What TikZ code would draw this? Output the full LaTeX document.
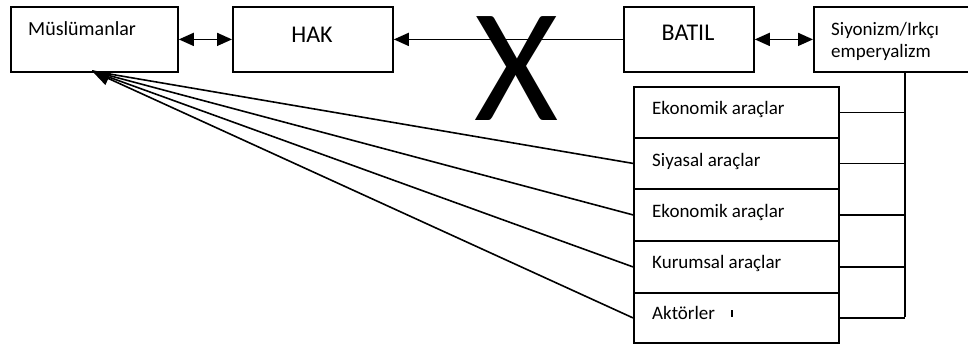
\documentclass[tikz,border=0pt]{standalone}
\usepackage{fontspec}
\setmainfont{Carlito}
\usetikzlibrary{arrows.meta}
\begin{document}
\begin{tikzpicture}[x=1pt,y=-1pt,
  box/.style={draw,line width=1.8pt,fill=white,inner sep=0pt,anchor=north west},
  lbl/.style={anchor=base west,inner sep=0pt,font=\fontsize{19}{22}\selectfont},
  big/.style={anchor=base,inner sep=0pt,font=\fontsize{24}{28}\selectfont},
  ln/.style={line width=1.6pt},
  tipa/.style={-{Triangle[length=15pt,width=13pt]}},
  tipb/.style={{Triangle[length=15pt,width=13pt]}-{Triangle[length=15pt,width=13pt]}},
  tipc/.style={-{Triangle[length=18pt,width=14pt]}}]
\useasboundingbox (0,0) rectangle (968,343);
% top row boxes
\node[box,minimum width=167pt,minimum height=65pt] (mus) at (10,6) {};
\node[box,minimum width=160pt,minimum height=65pt] (hak) at (232,6) {};
\node[box,minimum width=130pt,minimum height=65pt] (bat) at (623,6) {};
\node[box,minimum width=170pt,minimum height=65pt] (siy) at (813,6) {};
\node[lbl,font=\fontsize{20}{24}\selectfont] (musT) at (28,35) {Müslümanlar};
\node[big] (hakT) at (312,42) {HAK};
\node[big] (batT) at (688,40) {BATIL};
\node[lbl] (siyT1) at (831,35) {Siyonizm/Irkçı};
\node[lbl] (siyT2) at (831,57) {emperyalizm};
% rows
\node[box,minimum width=205pt,minimum height=51pt] (r1) at (633,86) {};
\node[box,minimum width=205pt,minimum height=51pt] (r2) at (633,137) {};
\node[box,minimum width=205pt,minimum height=52pt] (r3) at (633,188) {};
\node[box,minimum width=205pt,minimum height=52pt] (r4) at (633,240) {};
\node[box,minimum width=205pt,minimum height=50pt] (r5) at (633,292) {};
\node[lbl] (t1) at (652,114) {Ekonomik araçlar};
\node[lbl] (t2) at (652,166) {Siyasal araçlar};
\node[lbl] (t3) at (652,217) {Ekonomik araçlar};
\node[lbl] (t4) at (652,268) {Kurumsal araçlar};
\node[lbl] (t5) at (652,319) {Aktörler};
\draw[line width=1.8pt] (732,310) -- (732,317);
% connectors top
\draw[ln,tipb] (mus.east) -- (hak.west);
\draw[ln,tipa] (bat.west) -- (hak.east);
\draw[ln,tipb] (bat.east) -- (siy.west);
% right bracket
\coordinate (vtop) at (905,71);
\coordinate (vbot) at (905,317);
\draw[ln] (vtop) -- (vbot);
\foreach \r in {r1,r2,r3,r4,r5} \draw[ln] (\r.east) -- (\r.east -| vtop);
% fan to Muslumanlar
\coordinate (tip) at (92,71);
\draw[ln] (r2.west) -- (tip);
\draw[ln] (r3.west) -- (tip);
\draw[ln] (r4.west) -- (tip);
\draw[ln,tipc] (r5.west) -- (tip);
% big X
\node[anchor=base,inner sep=0pt,font=\fontsize{162}{162}\selectfont] (xx) at (517,120) {X};
\end{tikzpicture}
\end{document}
